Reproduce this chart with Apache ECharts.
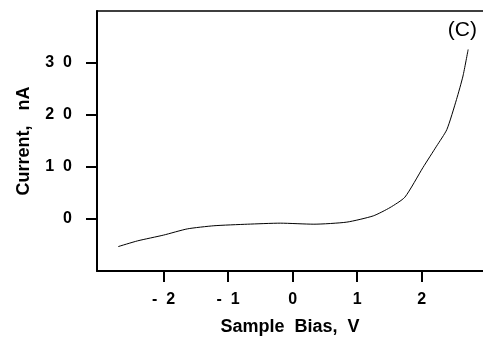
<!DOCTYPE html>
<html>
<head>
<meta charset="utf-8">
<script src="https://cdn.jsdelivr.net/npm/echarts@6/dist/echarts.min.js"></script>
<style>html,body{margin:0;padding:0;background:#fff}#c{width:483px;height:341px}</style>
</head>
<body>
<div id="c"></div>
<script>
var biasV = [-2.7, -2.4, -2.0, -1.63, -1.22, -0.7, -0.19, 0.33, 0.84, 1.25, 1.51, 1.74, 2.02, 2.23, 2.39, 2.54, 2.64, 2.72];
var currentNA = [-5.3, -4.2, -3.1, -1.9, -1.3, -1.0, -0.8, -1.0, -0.6, 0.6, 2.2, 4.2, 9.9, 14.0, 17.2, 23.0, 27.5, 32.6];
var xTicks = [-2, -1, 0, 1, 2];
var yTicks = [0, 10, 20, 30];
var panelLabel = '(C)';
var xTitle = 'Sample  Bias,  V';
var yTitle = 'Current,   nA';

var font = 'Liberation Sans, Arial, Helvetica, sans-serif';
function spaced(v) { return String(v).split('').join('  '); }

var chart = echarts.init(document.getElementById('c'), null, {renderer: 'canvas'});
chart.setOption({
  animation: false,
  backgroundColor: '#fff',
  grid: {left: 97, top: 11, right: 0, bottom: 69, containLabel: false},
  title: {
    text: panelLabel, right: 1, top: 15,
    textStyle: {fontFamily: font, fontSize: 21, fontWeight: 'normal', color: '#000'}
  },
  xAxis: [{
    type: 'value', min: -3.03, max: 2.95, position: 'bottom',
    name: xTitle, nameLocation: 'middle', nameGap: 47,
    nameTextStyle: {fontFamily: font, fontSize: 18, fontWeight: 'bold', color: '#000'},
    axisLine: {show: true, onZero: false, lineStyle: {color: '#000', width: 2}},
    axisTick: {show: true, length: 11, inside: false, customValues: xTicks, lineStyle: {color: '#000', width: 2}},
    axisLabel: {customValues: xTicks, margin: 21, formatter: spaced, fontFamily: font, fontSize: 16, fontWeight: 'bold', color: '#000'},
    splitLine: {show: false}
  }, {
    type: 'value', min: -3.03, max: 2.95, position: 'top',
    axisLine: {show: true, onZero: false, lineStyle: {color: '#000', width: 1.5}},
    axisTick: {show: false}, axisLabel: {show: false}, splitLine: {show: false}
  }],
  yAxis: {
    type: 'value', min: -10, max: 40,
    name: yTitle, nameLocation: 'middle', nameGap: 64,
    nameTextStyle: {fontFamily: font, fontSize: 18, fontWeight: 'bold', color: '#000'},
    axisLine: {show: true, onZero: false, lineStyle: {color: '#000', width: 2}},
    axisTick: {show: true, length: 11, inside: false, customValues: yTicks, lineStyle: {color: '#000', width: 2}},
    axisLabel: {customValues: yTicks, margin: 25, formatter: spaced, fontFamily: font, fontSize: 16, fontWeight: 'bold', color: '#000'},
    splitLine: {show: false}
  },
  series: [{
    type: 'line',
    data: biasV.map(function (x, i) { return [x, currentNA[i]]; }),
    smooth: 0.2,
    showSymbol: false,
    lineStyle: {color: '#000', width: 1}
  }]
});
</script>
</body>
</html>
